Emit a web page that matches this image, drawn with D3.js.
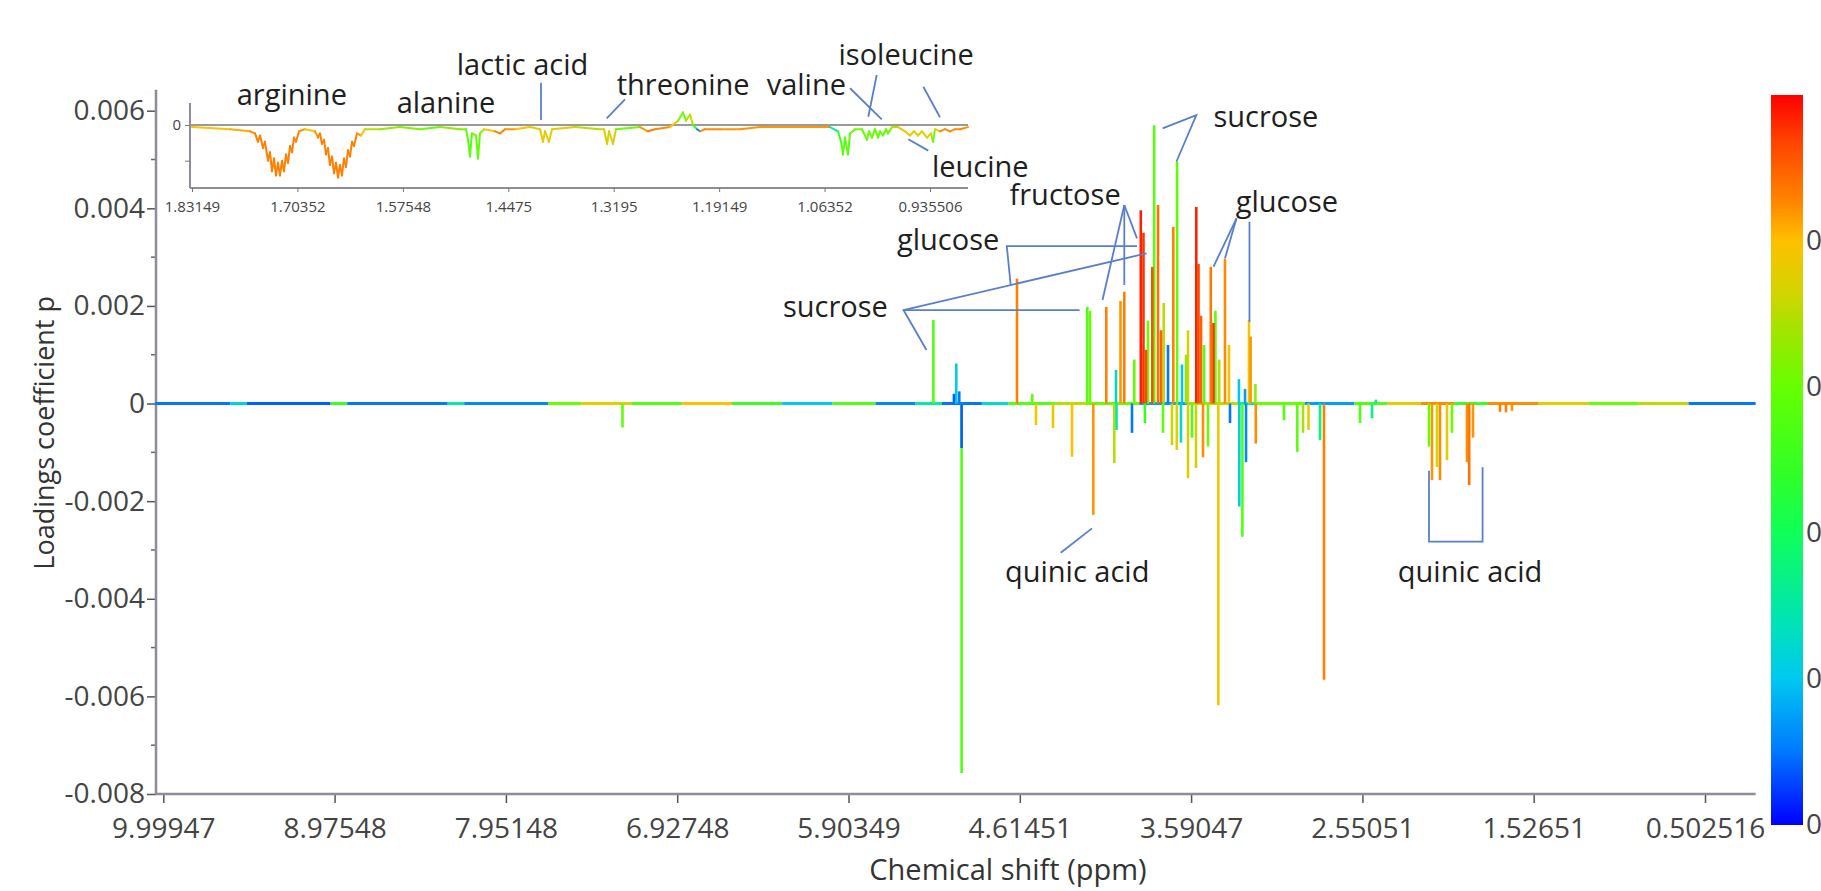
<!DOCTYPE html>
<html>
<head>
<meta charset="utf-8">
<script src="https://d3js.org/d3.v7.min.js"></script>
<style>
  body{ margin:0; background:#fff; }
  svg text{ font-family:"Open Sans", sans-serif; }
  .axis .tick text{ fill:#444; }
  .anno{ fill:#1e1e1e; font-size:29px; }
</style>
</head>
<body>
<div id="chart"></div>
<script>
var width = 1821, height = 891;

// main x axis is a variable-index axis, so ppm ticks are evenly placed but not evenly valued
var xTickPpm = [9.99947, 8.97548, 7.95148, 6.92748, 5.90349, 4.61451, 3.59047, 2.55051, 1.52651, 0.502516];
var xTickLabels = ["9.99947","8.97548","7.95148","6.92748","5.90349","4.61451","3.59047","2.55051","1.52651","0.502516"];
var yTicks = [0.006, 0.004, 0.002, 0, -0.002, -0.004, -0.006, -0.008];
var yMinorTicks = [0.005, 0.003, 0.001, -0.001, -0.003, -0.005, -0.007];

// colour bar (correlation) stops
var cbStops  = [0, 0.1, 0.2, 0.28, 0.4, 0.48, 0.6, 0.68, 0.73, 0.8, 0.86, 0.94, 1];
var cbColors = ["#0000ff","#0078ff","#00c8f0","#00e4b4","#10ff58","#30ff28","#66ff00","#a4e400","#d2d400","#ffc000","#ff8000","#ff4000","#ff0000"];
var cbTicks = [0, 0.2, 0.4, 0.6, 0.8];

// spectrum peaks: ppm, loading p, colour value
var peakPpm = [5.2646, 5.0923, 5.1100, 5.0700, 4.6355, 4.2116, 4.1948, 4.0974, 4.0394, 4.0125,
  3.9898, 3.8912, 3.8751, 3.8482, 3.8224, 3.8111, 3.7884, 3.7543, 3.7286, 3.6969,
  3.6742, 3.6450, 3.6091, 3.5589, 3.5455, 3.5121, 3.4709, 3.4545, 3.4429, 3.3847,
  3.3604, 3.2390, 3.2292, 3.2632, 3.9300, 3.8600, 3.7700, 3.6200, 3.5300, 3.4200,
  3.3000, 3.2000, 4.5400, 2.4700,
  5.0524, 5.0524, 4.5177, 4.4160, 4.3024, 4.1751, 4.0496, 4.0364, 3.9438, 3.8667,
  3.7585, 3.7047, 3.6760, 3.6510, 3.6091, 3.5850, 3.5607, 3.5182, 3.4879, 3.4253,
  3.3543, 3.2978, 3.2790, 3.2571, 3.1977, 3.0264, 2.9457, 2.9110, 2.8777, 2.8079,
  2.7836, 2.5651, 2.4931, 2.1524, 2.1345, 2.1046, 2.0867, 2.0448, 2.0150, 1.9253,
  1.9121, 1.8894, 1.7280, 1.6921, 1.6562, 7.2545];
var peakLoad = [0.00171, 0.00082, 0.00020, 0.00025, 0.00256, 0.00198, 0.00190, 0.00198, 0.00069, 0.00210,
  0.00229, 0.00396, 0.00350, 0.00170, 0.00280, 0.00570, 0.00407, 0.00206, 0.00120, 0.00362,
  0.00495, 0.00080, 0.00150, 0.00403, 0.00286, 0.00120, 0.00280, 0.00165, 0.00190, 0.00297,
  0.00120, 0.00171, 0.00137, 0.00030, 0.00090, 0.00110, 0.00150, 0.00100, 0.00180, 0.00090,
  0.00050, 0.00040, 0.00020, 0.00008,
  -0.00757, -0.00091, -0.00044, -0.00050, -0.00109, -0.00228, -0.00122, -0.00054, -0.00060, -0.00040,
  -0.00060, -0.00085, -0.00095, -0.00080, -0.00153, -0.00070, -0.00132, -0.00110, -0.00088, -0.00618,
  -0.00040, -0.00211, -0.00273, -0.00120, -0.00082, -0.00034, -0.00099, -0.00060, -0.00054, -0.00075,
  -0.00566, -0.00040, -0.00030, -0.00088, -0.00157, -0.00130, -0.00157, -0.00116, -0.00060, -0.00120,
  -0.00167, -0.00070, -0.00017, -0.00018, -0.00015, -0.00049];
var peakCorr = [0.55, 0.22, 0.08, 0.1, 0.86, 0.55, 0.6, 0.86, 0.25, 0.84,
  0.86, 0.97, 0.95, 0.6, 0.92, 0.57, 0.88, 0.7, 0.1, 0.86,
  0.58, 0.2, 0.75, 0.97, 0.93, 0.55, 0.87, 0.95, 0.58, 0.85,
  0.8, 0.77, 0.84, 0.15, 0.6, 0.93, 0.9, 0.65, 0.9, 0.7,
  0.2, 0.65, 0.6, 0.3,
  0.55, 0.08, 0.77, 0.76, 0.8, 0.84, 0.7, 0.3, 0.1, 0.5,
  0.58, 0.72, 0.75, 0.25, 0.74, 0.55, 0.72, 0.85, 0.6, 0.77,
  0.1, 0.22, 0.55, 0.12, 0.85, 0.55, 0.57, 0.68, 0.76, 0.35,
  0.86, 0.55, 0.35, 0.6, 0.84, 0.74, 0.85, 0.76, 0.6, 0.85,
  0.88, 0.84, 0.86, 0.86, 0.84, 0.58];

// baseline noise colour along the zero line
var baseBreaks = [10.05, 9.6, 9.5, 9.0, 8.9, 8.3, 8.2, 7.7, 7.5, 7.2, 6.9, 6.6, 6.3, 6.0, 5.7, 5.4, 5.2, 4.9,
  4.7, 4.4, 4.2, 3.9, 3.6, 3.3, 3.2, 2.9, 2.6, 2.4, 2.2, 2.0, 1.8, 1.5, 1.2, 0.9, 0.6, 0.2];
var baseCorr = [0.1, 0.22, 0.08, 0.5, 0.1, 0.3, 0.12, 0.6, 0.75, 0.55, 0.8, 0.5, 0.2, 0.55, 0.12, 0.3, 0.1,
  0.25, 0.55, 0.7, 0.6, 0.15, 0.7, 0.3, 0.6, 0.15, 0.55, 0.75, 0.85, 0.5, 0.85, 0.75, 0.6, 0.7, 0.1];

// inset (0.89 - 1.83 ppm)
var insetTicks = [1.83149, 1.70352, 1.57548, 1.4475, 1.3195, 1.19149, 1.06352, 0.935506];
var insetTickLabels = ["1.83149","1.70352","1.57548","1.4475","1.3195","1.19149","1.06352","0.935506"];
var insetPpm = [1.8315, 1.7854, 1.7611, 1.7550, 1.7514, 1.7489, 1.7453, 1.7429, 1.7392, 1.7368, 1.7344, 1.7319,
  1.7295, 1.7271, 1.7247, 1.7222, 1.7198, 1.7174, 1.7149, 1.7125, 1.7101, 1.7077, 1.7052, 1.7016,
  1.6943, 1.6822, 1.6785, 1.6761, 1.6737, 1.6712, 1.6688, 1.6664, 1.6640, 1.6615, 1.6591, 1.6567,
  1.6542, 1.6518, 1.6494, 1.6470, 1.6445, 1.6421, 1.6397, 1.6372, 1.6348, 1.6312, 1.6263, 1.6215,
  1.6032, 1.5790, 1.5547, 1.5304, 1.5061, 1.4988, 1.4964, 1.4940, 1.4916, 1.4867, 1.4843, 1.4818,
  1.4770, 1.4636, 1.4576, 1.4515, 1.4393, 1.4211, 1.4090, 1.4054, 1.4029, 1.3981, 1.3944, 1.3665,
  1.3361, 1.3313, 1.3276, 1.3252, 1.3204, 1.3167, 1.2876, 1.2779, 1.2694, 1.2512, 1.2414, 1.2354,
  1.2317, 1.2269, 1.2232, 1.2184, 1.2147, 1.2087, 1.1905, 1.1662, 1.1419, 1.1176, 1.0933, 1.0690,
  1.0569, 1.0472, 1.0435, 1.0411, 1.0387, 1.0351, 1.0326, 1.0266, 1.0181, 1.0120, 1.0096, 1.0059,
  1.0023, 0.9986, 0.9962, 0.9926, 0.9889, 0.9865, 0.9816, 0.9743, 0.9658, 0.9598, 0.9549, 0.9501,
  0.9452, 0.9391, 0.9343, 0.9319, 0.9294, 0.9234, 0.9173, 0.9112, 0.9051, 0.8991, 0.8894];
var insetLoad = [-0.00001, -0.00002, -0.00003, -0.00004, -0.00008, -0.00005, -0.00011, -0.00008, -0.00017, -0.00013, -0.00022, -0.00016,
  -0.00024, -0.00018, -0.00024, -0.00017, -0.00022, -0.00014, -0.00018, -0.00010, -0.00013, -0.00006, -0.00008, -0.00003,
  -0.00002, -0.00003, -0.00006, -0.00004, -0.00009, -0.00007, -0.00014, -0.00011, -0.00019, -0.00015, -0.00023, -0.00018,
  -0.00025, -0.00019, -0.00024, -0.00016, -0.00020, -0.00012, -0.00015, -0.00008, -0.00010, -0.00004, -0.00005, -0.00002,
  -0.00002, -0.00001, -0.00002, -0.00001, -0.00002, -0.00002, -0.00007, -0.00015, -0.00004, -0.00005, -0.00016, -0.00004,
  -0.00002, -0.00003, -0.00004, -0.00002, -0.00002, -0.00001, -0.00002, -0.00008, -0.00003, -0.00008, -0.00002, -0.00001,
  -0.00002, -0.00002, -0.00009, -0.00003, -0.00009, -0.00002, -0.00001, -0.00003, -0.00002, -0.00001, 0.00002, 0.00006,
  0.00002, 0.00005, 0.0, -0.00002, -0.00003, -0.00002, -0.00002, -0.00002, -0.00001, -0.00001, -0.00001, -0.00001,
  -0.00001, -0.00003, -0.00008, -0.00014, -0.00006, -0.00014, -0.00004, -0.00002, -0.00002, -0.00007, -0.00003, -0.00006,
  -0.00002, -0.00006, -0.00003, -0.00005, -0.00002, -0.00004, -0.00001, -0.00001, -0.00003, -0.00005, -0.00003, -0.00005,
  -0.00003, -0.00006, -0.00004, -0.00008, -0.00002, -0.00003, -0.00002, -0.00003, -0.00002, -0.00002, -0.00001];
var insetCorr = [0.8, 0.82, 0.85, 0.86, 0.86, 0.86, 0.86, 0.86, 0.86, 0.86, 0.86, 0.86,
  0.86, 0.86, 0.86, 0.86, 0.86, 0.86, 0.86, 0.86, 0.86, 0.86, 0.86, 0.84,
  0.8, 0.84, 0.86, 0.86, 0.86, 0.86, 0.86, 0.86, 0.86, 0.86, 0.86, 0.86,
  0.86, 0.86, 0.86, 0.86, 0.86, 0.86, 0.86, 0.86, 0.86, 0.84, 0.8, 0.7,
  0.66, 0.64, 0.6, 0.66, 0.62, 0.58, 0.58, 0.56, 0.6, 0.6, 0.58, 0.64,
  0.8, 0.86, 0.86, 0.84, 0.8, 0.74, 0.76, 0.76, 0.76, 0.76, 0.76, 0.7,
  0.74, 0.74, 0.74, 0.74, 0.74, 0.6, 0.84, 0.86, 0.85, 0.8, 0.62, 0.6,
  0.7, 0.72, 0.5, 0.12, 0.86, 0.85, 0.84, 0.84, 0.84, 0.84, 0.84, 0.84,
  0.3, 0.5, 0.56, 0.57, 0.57, 0.57, 0.6, 0.62, 0.6, 0.6, 0.6, 0.6,
  0.6, 0.6, 0.6, 0.6, 0.6, 0.6, 0.7, 0.76, 0.76, 0.76, 0.76, 0.76,
  0.76, 0.76, 0.7, 0.6, 0.8, 0.85, 0.85, 0.85, 0.85, 0.85, 0.85];

// annotations (anchored in data units)
var mainLabelText = ["sucrose", "fructose", "glucose", "glucose", "sucrose", "quinic acid", "quinic acid"];
var mainLabelPpm  = [3.4545, 4.6920, 3.3197, 5.5386, 6.2950, 4.7259, 2.3389];
var mainLabelLoad = [0.005665, 0.004067, 0.003930, 0.003145, 0.001778, -0.003651, -0.003651];
var mainLeaders = [
  [[3.7608, 0.005638], [3.5589, 0.005911], [3.6784, 0.004954]],
  [[3.9898, 0.004067], [4.1201, 0.002120]],
  [[3.9898, 0.004067], [3.9898, 0.002428]],
  [[3.9898, 0.004067], [3.9139, 0.003385]],
  [[3.3148, 0.003794], [3.4545, 0.002803]],
  [[3.3148, 0.003794], [3.3847, 0.002975]],
  [[3.2362, 0.003725], [3.2362, 0.001676]],
  [[3.9139, 0.003227], [4.7124, 0.003227], [4.6830, 0.002428]],
  [[5.3166, 0.001096], [5.4896, 0.001916], [3.8571, 0.003077]],
  [[5.4896, 0.001916], [4.2570, 0.001916]],
  [[4.1829, -0.002557], [4.3700, -0.003057]],
  [[2.1524, -0.001377], [2.1524, -0.002831], [1.8320, -0.002831], [1.8320, -0.001307]]
];
var insetLabelText = ["arginine", "alanine", "lactic acid", "threonine", "valine", "isoleucine", "leucine"];
var insetLabelPpm  = [1.7772, 1.5830, 1.5101, 1.3159, 1.1338, 1.0466, 0.9331];
var insetLabelLoad = [0.0000952, 0.0000557, 0.000238, 0.000143, 0.000143, 0.000286, -0.000248];
var insetLeaders = [
  [[1.4078, 0.000201], [1.4078, 0.0000238]],
  [[1.3058, 0.000122], [1.3280, 0.0000319]],
  [[1.0326, 0.000175], [0.9941, 0.0000271]],
  [[1.0002, 0.000238], [1.0104, 0.0000395]],
  [[0.9436, 0.000182], [0.9234, 0.0000367]],
  [[0.9618, -0.0000681], [0.9376, -0.000122]]
];

var axisColor = "#8c8c9c", leaderColor = "#5a7fca";

var svg = d3.select("#chart").append("svg")
    .attr("width", width)
    .attr("height", height);

var tickPx = xTickPpm.map(function(d, i){ return 163.3 + i * 171.3; });
var x = d3.scaleLinear().domain(xTickPpm).range(tickPx);
var y = d3.scaleLinear().domain([-0.008, 0.006]).range([794, 110.7]);
var corrColor = d3.scaleLinear().domain(cbStops).range(cbColors);

// ---- main axes
var xAxis = d3.axisBottom(x)
    .tickValues(xTickPpm)
    .tickFormat(function(d, i){ return xTickLabels[i]; })
    .tickSize(9)
    .tickPadding(15);
var gx = svg.append("g")
    .attr("class", "axis")
    .attr("transform", "translate(0," + y(-0.008) + ")")
    .call(xAxis);
gx.select(".domain").remove();
gx.selectAll(".tick line").attr("stroke", "#555").attr("stroke-width", 1.5);
gx.selectAll(".tick text").style("font-size", "28px");

var yAxis = d3.axisLeft(y)
    .tickValues(yTicks)
    .tickFormat(function(d){ return d === 0 ? "0" : d.toFixed(3); })
    .tickSize(9)
    .tickPadding(2);
var gy = svg.append("g")
    .attr("class", "axis")
    .attr("transform", "translate(156,0)")
    .call(yAxis);
gy.select(".domain").remove();
gy.selectAll(".tick line").attr("stroke", "#555").attr("stroke-width", 1.5);
gy.selectAll(".tick text").style("font-size", "28px");
gy.selectAll(".minor").data(yMinorTicks).enter().append("line")
    .attr("x1", -5).attr("x2", 0)
    .attr("y1", function(d){ return y(d); })
    .attr("y2", function(d){ return y(d); })
    .attr("stroke", "#666").attr("stroke-width", 1.5);

svg.append("line")
    .attr("x1", 156).attr("x2", 156)
    .attr("y1", y(0.00643)).attr("y2", y(-0.008))
    .attr("stroke", axisColor).attr("stroke-width", 2.5);
svg.append("line")
    .attr("x1", 155).attr("x2", x(0.2))
    .attr("y1", y(-0.008)).attr("y2", y(-0.008))
    .attr("stroke", axisColor).attr("stroke-width", 2.5);

svg.append("text")
    .attr("transform", "translate(47," + (y(-0.0006)) + ") rotate(-90)")
    .attr("text-anchor", "middle")
    .attr("dominant-baseline", "middle")
    .style("font-size", "27px")
    .attr("fill", "#333")
    .text("Loadings coefficient p");

svg.append("text")
    .attr("x", 1008).attr("y", 880)
    .attr("text-anchor", "middle")
    .style("font-size", "29px")
    .attr("fill", "#333")
    .text("Chemical shift (ppm)");

// ---- spectrum
svg.append("line")
    .attr("x1", x(10.05)).attr("x2", x(0.2))
    .attr("y1", y(0)).attr("y2", y(0))
    .attr("stroke", "#bbb").attr("stroke-width", 1);

svg.append("g").selectAll("line")
    .data(baseCorr)
    .enter().append("line")
    .attr("x1", function(d, i){ return x(baseBreaks[i]); })
    .attr("x2", function(d, i){ return x(baseBreaks[i + 1]); })
    .attr("y1", y(0)).attr("y2", y(0))
    .attr("stroke", function(d){ return corrColor(d); })
    .attr("stroke-width", 3);

var peaks = peakPpm.map(function(p, i){ return {ppm: p, p: peakLoad[i], c: peakCorr[i]}; });
peaks.sort(function(a, b){ return Math.abs(b.p) - Math.abs(a.p); });

svg.append("g").selectAll("line")
    .data(peaks)
    .enter().append("line")
    .attr("x1", function(d){ return x(d.ppm); })
    .attr("x2", function(d){ return x(d.ppm); })
    .attr("y1", y(0))
    .attr("y2", function(d){ return y(d.p); })
    .attr("stroke", function(d){ return corrColor(d.c); })
    .attr("stroke-width", 2.6);

// ---- inset
var ix = d3.scaleLinear().domain([1.83149, 0.935506]).range([192, 930]);
var iy = d3.scaleLinear().domain([-0.0003, 0]).range([188, 125]);

svg.append("line")
    .attr("x1", 190).attr("x2", 190)
    .attr("y1", iy(0.000105)).attr("y2", iy(-0.0003))
    .attr("stroke", axisColor).attr("stroke-width", 2);
svg.append("line")
    .attr("x1", 190).attr("x2", ix(0.8894))
    .attr("y1", iy(-0.0003)).attr("y2", iy(-0.0003))
    .attr("stroke", axisColor).attr("stroke-width", 2);
svg.append("line")
    .attr("x1", 190).attr("x2", ix(0.8894))
    .attr("y1", iy(0)).attr("y2", iy(0))
    .attr("stroke", "#9a9a9a").attr("stroke-width", 2);

var ixAxis = d3.axisBottom(ix)
    .tickValues(insetTicks)
    .tickFormat(function(d, i){ return insetTickLabels[i]; })
    .tickSize(4)
    .tickPadding(9);
var gix = svg.append("g")
    .attr("class", "axis")
    .attr("transform", "translate(0," + iy(-0.0003) + ")")
    .call(ixAxis);
gix.select(".domain").remove();
gix.selectAll(".tick line").attr("stroke", "#777");
gix.selectAll(".tick text").style("font-size", "15px").attr("fill", "#555");

var iyAxis = d3.axisLeft(iy)
    .tickValues([0, -0.00017])
    .tickFormat(function(d){ return d === 0 ? "0" : ""; })
    .tickSize(5)
    .tickPadding(4);
var giy = svg.append("g")
    .attr("class", "axis")
    .attr("transform", "translate(190,0)")
    .call(iyAxis);
giy.select(".domain").remove();
giy.selectAll(".tick line").attr("stroke", "#777");
giy.selectAll(".tick text").style("font-size", "15px").attr("fill", "#555");

svg.append("g").selectAll("line")
    .data(insetPpm.slice(0, -1))
    .enter().append("line")
    .attr("x1", function(d, i){ return ix(insetPpm[i]); })
    .attr("x2", function(d, i){ return ix(insetPpm[i + 1]); })
    .attr("y1", function(d, i){ return iy(insetLoad[i]); })
    .attr("y2", function(d, i){ return iy(insetLoad[i + 1]); })
    .attr("stroke", function(d, i){ return corrColor(insetCorr[i]); })
    .attr("stroke-width", 2)
    .attr("stroke-linecap", "round");

// ---- annotations
var mainLine = d3.line()
    .x(function(d){ return x(d[0]); })
    .y(function(d){ return y(d[1]); });
var insetLine = d3.line()
    .x(function(d){ return ix(d[0]); })
    .y(function(d){ return iy(d[1]); });

svg.append("g").selectAll("path")
    .data(mainLeaders)
    .enter().append("path")
    .attr("d", mainLine)
    .attr("fill", "none")
    .attr("stroke", leaderColor)
    .attr("stroke-width", 1.8);
svg.append("g").selectAll("path")
    .data(insetLeaders)
    .enter().append("path")
    .attr("d", insetLine)
    .attr("fill", "none")
    .attr("stroke", leaderColor)
    .attr("stroke-width", 1.8);

svg.append("g").selectAll("text")
    .data(mainLabelText)
    .enter().append("text")
    .attr("class", "anno")
    .attr("x", function(d, i){ return x(mainLabelPpm[i]); })
    .attr("y", function(d, i){ return y(mainLabelLoad[i]); })
    .text(function(d){ return d; });
svg.append("g").selectAll("text")
    .data(insetLabelText)
    .enter().append("text")
    .attr("class", "anno")
    .attr("x", function(d, i){ return ix(insetLabelPpm[i]); })
    .attr("y", function(d, i){ return iy(insetLabelLoad[i]); })
    .text(function(d){ return d; });

// ---- colour bar
var cb = d3.scaleLinear().domain([0, 1]).range([825, 95]);
var grad = svg.append("defs").append("linearGradient")
    .attr("id", "corrGrad")
    .attr("x1", 0).attr("y1", 1).attr("x2", 0).attr("y2", 0);
grad.selectAll("stop")
    .data(cbStops)
    .enter().append("stop")
    .attr("offset", function(d){ return d; })
    .attr("stop-color", function(d, i){ return cbColors[i]; });

svg.append("rect")
    .attr("x", 1771).attr("y", cb(1))
    .attr("width", 32).attr("height", cb(0) - cb(1))
    .attr("fill", "url(#corrGrad)");

// labels run off the right edge, as in the original figure
svg.append("g").selectAll("text")
    .data(cbTicks)
    .enter().append("text")
    .attr("x", 1806)
    .attr("y", function(d){ return cb(d) + 2; })
    .attr("dominant-baseline", "middle")
    .style("font-size", "28px")
    .attr("fill", "#444")
    .text(function(d){ return d === 0 ? "0" : d.toFixed(1); });
</script>
</body>
</html>
